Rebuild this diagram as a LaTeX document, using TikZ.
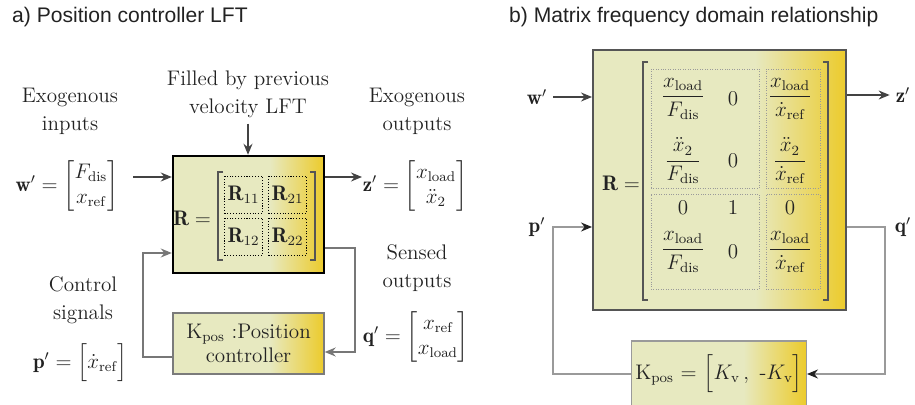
\documentclass[tikz,border=0pt]{standalone}
\usepackage{amsmath}
\usepackage{fontspec}
\newfontfamily\ttlfont{Liberation Sans}
\usetikzlibrary{arrows.meta,positioning,calc}
\definecolor{lPale}{HTML}{E7E9C0}
\definecolor{lGold}{HTML}{ECCB2B}
\definecolor{lInk}{HTML}{222222}
\definecolor{lLine}{HTML}{555555}
\definecolor{lGrey}{HTML}{9A9A9A}
\pgfdeclarehorizontalshading{lftshade}{100bp}{color(0bp)=(lPale); color(25bp)=(lPale);
  color(57bp)=(lPale); color(75bp)=(lGold); color(100bp)=(lGold)}
\tikzset{
  lft/.style  = {shade, shading=lftshade, inner sep=2pt, align=center},
  lfta/.style = {lft, draw=black, line width=1.4pt},
  lftk/.style = {lft, draw=lGrey!80!black, line width=0.8pt},
  lftb/.style = {lft, draw=lLine, line width=1.1pt},
  dta/.style  = {draw=black, densely dotted, line width=0.6pt, inner sep=0pt,
                 minimum width=7.6mm, minimum height=7.4mm},
  dtb/.style  = {draw=lGrey, densely dotted, line width=0.4pt, inner sep=0pt},
  ent/.style  = {inner sep=0.5pt},
  brk/.style  = {draw=lLine, line width=0.7pt},
  ar/.style   = {-{Stealth[length=2.2mm,width=1.8mm]}, draw=lInk!85, line width=0.8pt},
  fb/.style   = {ar, draw=lLine!80},
  fbb/.style  = {-{Stealth[length=2.2mm,width=1.8mm,color=lInk]}, draw=lGrey, line width=0.8pt},
  lbl/.style  = {align=center, font=\fontsize{12}{16}\selectfont, text=lInk},
  ttl/.style  = {font=\ttlfont\fontsize{12}{14}\selectfont, text=lInk},
}

\begin{document}
\begin{tikzpicture}[x=0.2mm, y=-0.2mm, font=\large, text=lInk]
  \useasboundingbox (0,0) rectangle (915,405);
  % ---- a) position controller LFT
  \node[ttl, anchor=west] (ttla) at (6,17) {a) Position controller LFT};
  \node[lbl] (fillnote) at (248,94) {Filled by previous\\velocity LFT};
  \node[lbl] (exin)   at (70,111)  {Exogenous\\inputs};
  \node[lbl] (exout)  at (417,111) {Exogenous\\outputs};
  \node[lbl] (sensed) at (417,268) {Sensed\\outputs};
  \node[lbl] (ctrl)   at (83,300)  {Control\\signals};

  \node[lfta, minimum width=30.2mm, minimum height=23.4mm] (RA) at (248.5,214.5) {};
  \node (RAeq) at (192,218) {$\mathbf{R} =$};
  \foreach \n/\x/\y/\l in {r11/243.5/195/{11}, r21/287.5/195/{21},
                           r12/243.5/237/{12}, r22/287.5/237/{22}}
    \node[dta] (\n) at (\x,\y) {$\mathbf{R}_{\l}$};
  \draw[brk] (223,172) -- (218,172) -- (218,260) -- (223,260);
  \draw[brk] (310,172) -- (315,172) -- (315,260) -- (310,260);

  \node[lftk, minimum width=30.2mm, minimum height=12.2mm] (KA) at (248.5,343.5)
       {K$_{\mathrm{pos}}$ :Position\\controller};

  % signal vectors
  \node (wA) at (67,186) {$\mathbf{w}' = \begin{bmatrix} F_{\mathrm{dis}} \\ x_{\mathrm{ref}} \end{bmatrix}$};
  \node (zA) at (415,186) {$\mathbf{z}' = \begin{bmatrix} x_{\mathrm{load}} \\ \ddot{x}_2 \end{bmatrix}$};
  \node (qA) at (416,337) {$\mathbf{q}' = \begin{bmatrix} x_{\mathrm{ref}} \\ x_{\mathrm{load}} \end{bmatrix}$};
  \node (pA) at (80,363) {$\mathbf{p}' = \left[\rule[-3mm]{0pt}{8mm} \dot{x}_{\mathrm{ref}}\right]$};

  % connectors
  \coordinate (wAin)  at (133,177);
  \coordinate (zAout) at (362,177);
  \coordinate (qA1) at (355,248);
  \coordinate (qA2) at (355,352);
  \coordinate (pA1) at (143,357);
  \coordinate (pA2) at (143,253);
  \draw[ar] (fillnote.south) -- (fillnote.south |- RA.north);
  \draw[ar] (wAin) -- (wAin -| RA.west);
  \draw[ar] (RA.east |- zAout) -- (zAout);
  \draw[fb] (RA.east |- qA1) -- (qA1) -- (qA2) -- (qA2 -| KA.east);
  \draw[fb] (pA1 -| KA.west) -- (pA1) -- (pA2) -- (pA2 -| RA.west);

  % ---- b) matrix frequency domain relationship
  \node[ttl, anchor=west] (ttlb) at (503,17) {b) Matrix frequency domain relationship};
  \node[lftb, minimum width=50.6mm, minimum height=52mm] (RB) at (719.5,180) {};
  \node (RBeq) at (621,183) {$\mathbf{R} =$};
  \foreach \n/\x/\y/\w/\h in {b11/705/128.5/21.6/23.8, b21/793/128.5/10.8/23.8,
                              b12/705/241.5/21.6/19,   b22/793/241.5/10.8/19}
    \node[dtb, minimum width=\w mm, minimum height=\h mm] (\n) at (\x,\y) {};
  \draw[brk] (648,62) -- (643,62) -- (643,300) -- (648,300);
  \draw[brk] (823,62) -- (828,62) -- (828,300) -- (823,300);
  \foreach \n/\x/\y/\e in {
      e11/683/99/{$\dfrac{x_{\mathrm{load}}}{F_{\mathrm{dis}}}$},
      e12/733/99/{$0$},
      e13/790/99/{$\dfrac{x_{\mathrm{load}}}{\dot{x}_{\mathrm{ref}}}$},
      e21/683/161/{$\dfrac{\ddot{x}_2}{F_{\mathrm{dis}}}$},
      e22/733/161/{$0$},
      e23/790/161/{$\dfrac{\ddot{x}_2}{\dot{x}_{\mathrm{ref}}}$},
      e31/683/208/{$0$}, e32/733/208/{$1$}, e33/790/208/{$0$},
      e41/683/252/{$\dfrac{x_{\mathrm{load}}}{F_{\mathrm{dis}}}$},
      e42/733/252/{$0$},
      e43/790/252/{$\dfrac{x_{\mathrm{load}}}{\dot{x}_{\mathrm{ref}}}$}}
    \node[ent] (\n) at (\x,\y) {\e};

  \node[lftk, draw=lGrey, minimum width=30.4mm, minimum height=13.2mm] (KB) at (719,374)
       {K$_{\mathrm{pos}}$ = $\left[\rule[-3mm]{0pt}{8mm} K_{\mathrm{v}}\,,\ \text{-}K_{\mathrm{v}}\right]$};

  \node (wB) at (537,97)  {$\mathbf{w}'$};
  \node (zB) at (903,95)  {$\mathbf{z}'$};
  \node (pB) at (537,227) {$\mathbf{p}'$};
  \node (qB) at (903,227) {$\mathbf{q}'$};

  \coordinate (pB1) at (553,227);
  \coordinate (pB2) at (553,374);
  \coordinate (qB1) at (885,227);
  \coordinate (qB2) at (885,374);
  \draw[ar] (wB.east) -- (wB.east -| RB.west);
  \draw[ar] (RB.east |- zB) -- (zB.west);
  \draw[fbb] (KB.west) -- (pB2) -- (pB1) -- (pB1 -| RB.west);
  \draw[fbb] (RB.east |- qB1) -- (qB1) -- (qB2) -- (KB.east);
\end{tikzpicture}
\end{document}
